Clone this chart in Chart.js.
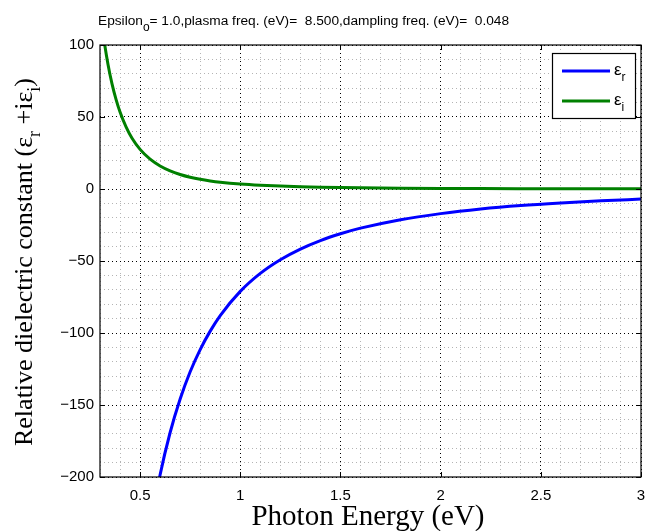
<!DOCTYPE html>
<html>
<head>
<meta charset="utf-8">
<script src="https://cdn.jsdelivr.net/npm/chart.js@4"></script>
<style>
  body { margin: 0; background: #fff; }
  canvas { display: block; }
</style>
</head>
<body>
<canvas id="chart1" width="645" height="531"></canvas>
<script>
// photon energy (eV) and the two parts of the dielectric constant
const energy = [0.30, 0.32, 0.34, 0.36, 0.38, 0.40, 0.43, 0.46, 0.50, 0.55, 0.60, 0.65, 0.70, 0.75, 0.80, 0.85, 0.90,
                1.0, 1.1, 1.2, 1.3, 1.4, 1.5, 1.6, 1.8, 2.0, 2.2, 2.4, 2.6, 2.8, 3.0];
const epsReal = [null, null, null, null, null, null, null, null, null, -236.0, -198.4, -169.1, -145.8, -126.9, -111.5, -98.7, -87.9,
                 -71.1, -58.6, -49.1, -41.7, -35.8, -31.1, -27.2, -21.3, -17.1, -13.9, -11.5, -9.7, -8.2, -7.0];
const epsImag = [125.2, 103.5, 86.5, 73.0, 62.2, 53.4, 43.1, 35.2, 27.5, 20.7, 16.0, 12.6, 10.1, 8.2, 6.75, 5.63, 4.74,
                 3.46, 2.60, 2.00, 1.58, 1.26, 1.03, 0.85, 0.59, 0.43, 0.33, 0.25, 0.20, 0.16, 0.13];

const xTickLabels = ['0.5', '1', '1.5', '2', '2.5', '3'];
const yTickLabels = ['100', '50', '0', '\u221250', '\u2212100', '\u2212150', '\u2212200'];

const toPoints = ys => energy.map((x, i) => ({x: x, y: ys[i]}));

// draws text with subscripts: parts = [[text, isSub], ...]
function drawParts(ctx, parts, x, y, font, subFont, subDrop) {
  let cx = x;
  parts.forEach(p => {
    ctx.font = p[1] ? subFont : font;
    ctx.fillText(p[0], cx, p[1] ? y + subDrop : y);
    cx += ctx.measureText(p[0]).width;
  });
  return cx;
}
function partsWidth(ctx, parts, font, subFont) {
  let w = 0;
  parts.forEach(p => {
    ctx.font = p[1] ? subFont : font;
    w += ctx.measureText(p[0]).width;
  });
  return w;
}

const decorations = {
  id: 'decorations',
  afterDatasetsDraw(chart) {
    const ctx = chart.ctx;
    const a = chart.chartArea;
    ctx.save();
    // axes box
    ctx.strokeStyle = '#000';
    ctx.lineWidth = 1.2;
    ctx.strokeRect(a.left, a.top, a.right - a.left, a.bottom - a.top);

    // inward tick marks at the labelled ticks, on all four sides
    ctx.lineWidth = 1;
    ctx.beginPath();
    chart.scales.x.ticks.forEach(t => {
      if (Math.round(t.value * 10) % 5 !== 0) return;
      const px = Math.round(chart.scales.x.getPixelForValue(t.value)) + 0.5;
      ctx.moveTo(px, a.bottom); ctx.lineTo(px, a.bottom - 5);
      ctx.moveTo(px, a.top); ctx.lineTo(px, a.top + 5);
    });
    chart.scales.y.ticks.forEach(t => {
      if (Math.round(t.value) % 50 !== 0) return;
      const py = Math.round(chart.scales.y.getPixelForValue(t.value)) + 0.5;
      ctx.moveTo(a.left, py); ctx.lineTo(a.left + 5, py);
      ctx.moveTo(a.right, py); ctx.lineTo(a.right - 5, py);
    });
    ctx.stroke();

    // legend
    const lx = 552, ly = 53, lw = 83, lh = 65;
    ctx.fillStyle = '#fff';
    ctx.fillRect(lx, ly, lw, lh);
    ctx.lineWidth = 1.2;
    ctx.strokeRect(lx + 0.5, ly + 0.5, lw, lh);
    const subs = ['r', 'i'];
    chart.data.datasets.forEach((ds, i) => {
      const yy = ly + 18 + i * 30;
      ctx.strokeStyle = ds.borderColor;
      ctx.lineWidth = 3;
      ctx.beginPath();
      ctx.moveTo(562, yy);
      ctx.lineTo(610, yy);
      ctx.stroke();
      ctx.fillStyle = '#000';
      ctx.textBaseline = 'alphabetic';
      drawParts(ctx, [['\u03b5', false], [subs[i], true]], 614, yy + 4,
        '17px "Liberation Sans"', '12px "Liberation Sans"', 6);
    });

    // title
    ctx.fillStyle = '#000';
    ctx.textAlign = 'left';
    drawParts(ctx, [['Epsilon', false], ['o', true],
      ['= 1.0,plasma freq. (eV)=  8.500,dampling freq. (eV)=  0.048', false]],
      98, 25, '13.7px "Liberation Sans"', '12px "Liberation Sans"', 6);

    // x axis title
    ctx.font = '29px "Liberation Serif"';
    ctx.textAlign = 'center';
    ctx.fillText('Photon Energy (eV)', 368, 525);

    // y axis title (rotated)
    ctx.translate(32, 262);
    ctx.rotate(-Math.PI / 2);
    ctx.textAlign = 'left';
    const yParts = [['Relative dielectric constant (\u03b5', false], ['r', true], [' +i\u03b5', false], ['i', true], [')', false]];
    const f = '26px "Liberation Serif"', sf = '18px "Liberation Serif"';
    const w = partsWidth(ctx, yParts, f, sf);
    drawParts(ctx, yParts, -w / 2, 0, f, sf, 8);
    ctx.restore();
  }
};

const ctx = document.getElementById('chart1');

const myChart = new Chart(ctx, {
  type: 'line',
  data: {
    datasets: [{
      label: 'eps_r',
      data: toPoints(epsReal),
      borderColor: '#0000ff',
      borderWidth: 3,
      pointRadius: 0,
      cubicInterpolationMode: 'monotone',
      fill: false
    }, {
      label: 'eps_i',
      data: toPoints(epsImag),
      borderColor: '#008000',
      borderWidth: 3,
      pointRadius: 0,
      cubicInterpolationMode: 'monotone',
      fill: false
    }]
  },
  options: {
    responsive: false,
    animation: false,
    layout: { padding: { top: 45, right: 4, left: 0, bottom: 0 } },
    plugins: { legend: { display: false }, tooltip: { enabled: false } },
    scales: {
      x: {
        type: 'linear',
        min: 0.3,
        max: 3,
        afterFit: scale => { scale.height = 54; scale.paddingRight = 0; scale.paddingLeft = 0; },
        border: { display: false, dash: [1, 3] },
        grid: {
          drawTicks: false,
          lineWidth: 1,
          color: c => (Math.round(c.tick.value * 10) % 5 === 0 ? '#000' : '#b4b4b4')
        },
        ticks: {
          stepSize: 0.1,
          autoSkip: false,
          maxTicksLimit: 100,
          maxRotation: 0,
          padding: 10,
          color: '#000',
          font: { family: 'Liberation Sans', size: 15 },
          callback: v => {
            const r = Math.round(v * 10);
            return r % 5 === 0 ? xTickLabels[r / 5 - 1] : '';
          }
        }
      },
      y: {
        min: -200,
        max: 100,
        afterFit: scale => { scale.width = 100; scale.paddingTop = 0; scale.paddingBottom = 0; },
        border: { display: false, dash: [1, 3] },
        grid: {
          drawTicks: false,
          lineWidth: 1,
          color: c => (Math.round(c.tick.value) % 50 === 0 ? '#000' : '#b4b4b4')
        },
        ticks: {
          stepSize: 10,
          autoSkip: false,
          maxTicksLimit: 100,
          padding: 6,
          color: '#000',
          font: { family: 'Liberation Sans', size: 15 },
          callback: v => {
            const r = Math.round(v);
            return r % 50 === 0 ? yTickLabels[(100 - r) / 50] : '';
          }
        }
      }
    }
  },
  plugins: [decorations]
});
</script>
</body>
</html>
